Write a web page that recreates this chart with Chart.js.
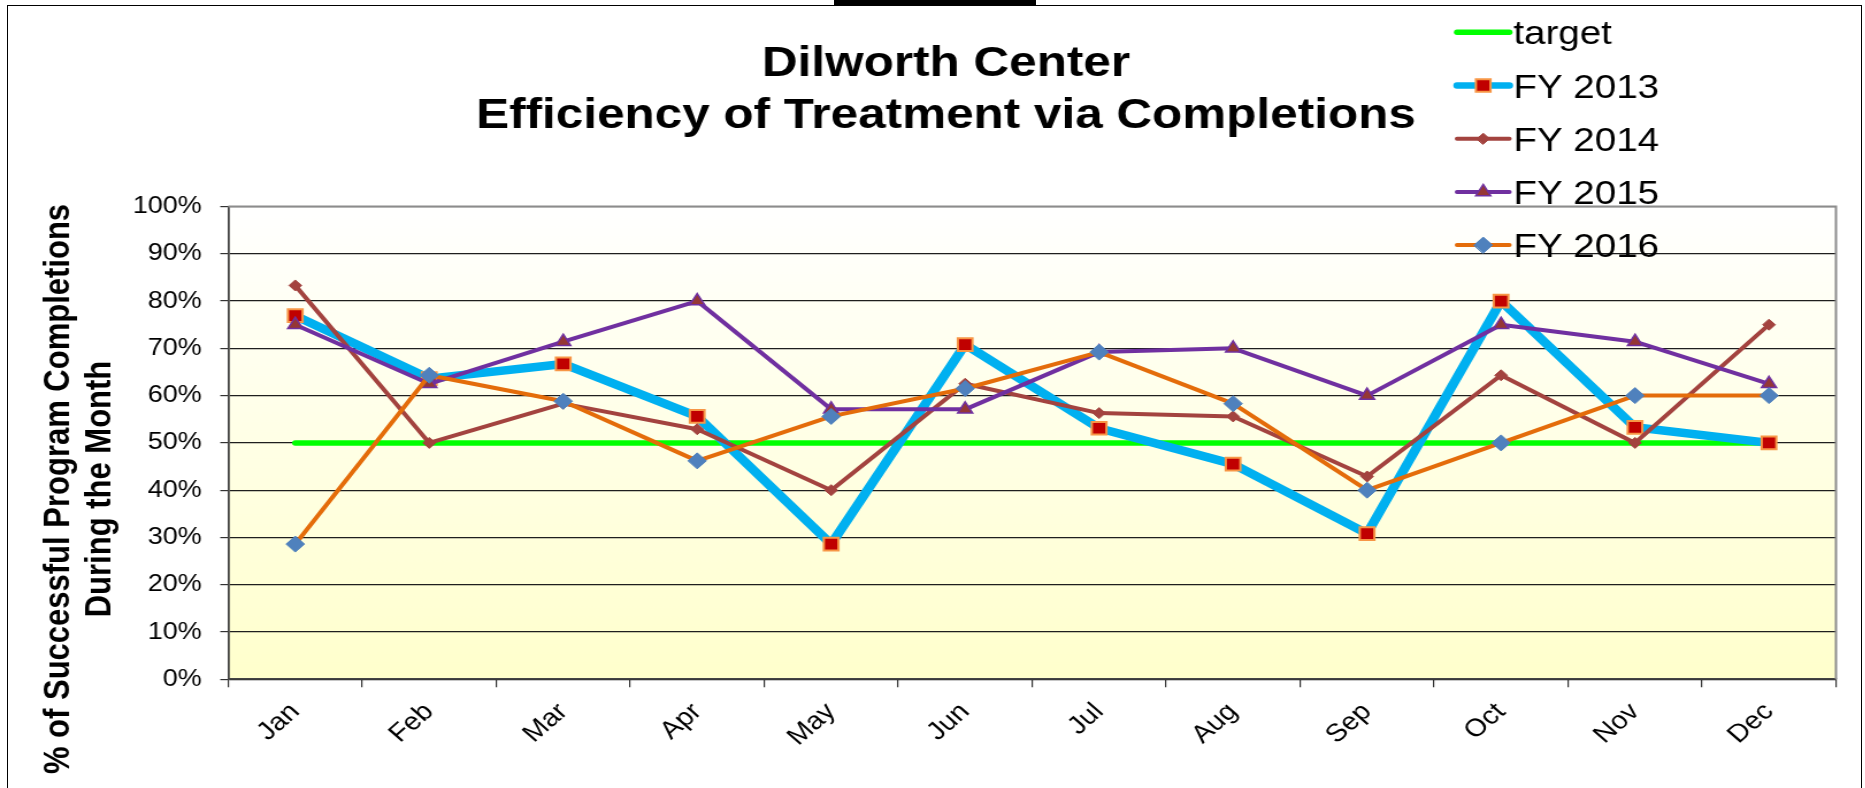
<!DOCTYPE html>
<html>
<head>
<meta charset="utf-8">
<script src="https://cdn.jsdelivr.net/npm/chart.js@4.4.1/dist/chart.umd.min.js"></script>
<style>
  html, body { margin: 0; padding: 0; background: #fff; overflow: hidden; }
  #frame { position: absolute; left: 7px; top: 5px; width: 1855px; height: 830px; border: 1.5px solid #000; box-sizing: border-box; }
  #topbar { position: absolute; left: 834px; top: 0; width: 202px; height: 6px; background: #000; }
  /* the reference is stretched sideways, so the chart is drawn narrow and widened */
  #wrap { position: absolute; left: 0; top: 0; width: 1622px; height: 788px; transform: scaleX(1.15); transform-origin: 0 0; }
</style>
</head>
<body>
<div id="frame"></div>
<div id="topbar"></div>
<div id="wrap"><canvas id="chart" width="1622" height="788"></canvas></div>
<script>
const months = ['Jan', 'Feb', 'Mar', 'Apr', 'May', 'Jun', 'Jul', 'Aug', 'Sep', 'Oct', 'Nov', 'Dec'];
const target = [50, 50, 50, 50, 50, 50, 50, 50, 50, 50, 50, 50];
const fy2013 = [76.9, 63.6, 66.7, 55.6, 28.6, 70.8, 53.1, 45.5, 30.8, 80.0, 53.3, 50.0];
const fy2014 = [83.3, 50.0, 58.3, 52.9, 40.0, 62.5, 56.3, 55.6, 42.9, 64.3, 50.0, 75.0];
const fy2015 = [75.0, 62.5, 71.4, 80.0, 57.1, 57.1, 69.2, 70.0, 60.0, 75.0, 71.4, 62.5];
const fy2016 = [28.6, 64.3, 58.8, 46.2, 55.6, 61.5, 69.2, 58.3, 40.0, 50.0, 60.0, 60.0];

const titleLines = ['Dilworth Center', 'Efficiency of Treatment via Completions'];
const yTitleLines = ['% of Successful Program Completions', 'During the Month'];

const FONT = '"Liberation Sans", Arial, sans-serif';

// plot background + grey frame on top/right
const plotBg = {
    id: 'plotBg',
    beforeDraw(chart) {
        const { ctx, chartArea: a } = chart;
        const g = ctx.createLinearGradient(0, a.top, 0, a.bottom);
        g.addColorStop(0, '#ffffff');
        g.addColorStop(1, '#ffffcc');
        ctx.save();
        ctx.fillStyle = g;
        ctx.fillRect(a.left, a.top, a.right - a.left, a.bottom - a.top);
        ctx.restore();
    },
    beforeDatasetsDraw(chart) {
        const { ctx, chartArea: a } = chart;
        ctx.save();
        ctx.strokeStyle = '#8c8c8c';
        ctx.lineWidth = 2;
        ctx.beginPath();
        ctx.moveTo(a.left, a.top);
        ctx.lineTo(a.right, a.top);
        ctx.lineTo(a.right, a.bottom);
        ctx.stroke();
        ctx.restore();
    }
};

// titles (chart title is off-centre in the original, so drawn by hand)
const titles = {
    id: 'titles',
    afterDraw(chart) {
        const ctx = chart.ctx;
        ctx.save();
        ctx.fillStyle = '#000';
        ctx.font = 'bold 43px ' + FONT;
        ctx.textAlign = 'center';
        ctx.textBaseline = 'alphabetic';
        ctx.fillText(titleLines[0], 822.6, 76);
        ctx.fillText(titleLines[1], 822.6, 128);

        ctx.font = 'bold 31px ' + FONT;
        [59.8, 96.3].forEach((x, i) => {
            ctx.save();
            ctx.translate(x, 489);
            ctx.rotate(-Math.PI / 2);
            ctx.fillText(yTitleLines[i], 0, 0);
            ctx.restore();
        });
        ctx.restore();
    }
};

function marker(ctx, ds, x, y) {
    if (!ds.pointRadius) return;
    ctx.fillStyle = ds.pointBackgroundColor;
    ctx.strokeStyle = ds.pointBorderColor;
    ctx.lineWidth = ds.pointBorderWidth;
    Chart.helpers.drawPoint(ctx, { pointStyle: ds.pointStyle, radius: ds.pointRadius, borderWidth: ds.pointBorderWidth, rotation: 0 }, x, y);
}

// legend at top right, overlapping the plot like the original
const sideLegend = {
    id: 'sideLegend',
    afterDraw(chart) {
        const ctx = chart.ctx;
        const x1 = 1267, x2 = 1312.5, tx = 1316;
        ctx.save();
        chart.data.datasets.forEach((ds, i) => {
            const y = 32.3 + i * 53.2;
            ctx.strokeStyle = ds.borderColor;
            ctx.lineWidth = Math.min(ds.borderWidth, 6.5);
            ctx.lineCap = 'round';
            ctx.beginPath();
            ctx.moveTo(x1, y);
            ctx.lineTo(x2, y);
            ctx.stroke();
            marker(ctx, ds, (x1 + x2) / 2, y);
            ctx.fillStyle = '#000';
            ctx.font = '33.5px ' + FONT;
            ctx.textAlign = 'left';
            ctx.textBaseline = 'alphabetic';
            ctx.fillText(ds.label, tx, y + 12);
        });
        ctx.restore();
    }
};

const lineBase = { tension: 0, borderJoinStyle: 'round', borderCapStyle: 'round', fill: false };

new Chart(document.getElementById('chart'), {
    type: 'line',
    data: {
        labels: months,
        datasets: [
            { ...lineBase, label: 'target', data: target, order: 5,
              borderColor: '#00ff00', borderWidth: 5.5, pointRadius: 0 },
            { ...lineBase, label: 'FY 2013', data: fy2013, order: 4,
              borderColor: '#00b0f0', borderWidth: 8.5,
              pointStyle: 'rect', pointRadius: 9, pointBackgroundColor: '#c00000', pointBorderColor: '#f79646', pointBorderWidth: 2 },
            { ...lineBase, label: 'FY 2014', data: fy2014, order: 3,
              borderColor: '#a3433f', borderWidth: 4,
              pointStyle: 'rectRot', pointRadius: 5.5, pointBackgroundColor: '#a3433f', pointBorderColor: '#a3433f', pointBorderWidth: 1 },
            { ...lineBase, label: 'FY 2015', data: fy2015, order: 2,
              borderColor: '#7030a0', borderWidth: 4,
              pointStyle: 'triangle', pointRadius: 7.5, pointBackgroundColor: '#953735', pointBorderColor: '#7030a0', pointBorderWidth: 1.5 },
            { ...lineBase, label: 'FY 2016', data: fy2016, order: 1,
              borderColor: '#e46c0a', borderWidth: 4,
              pointStyle: 'rectRot', pointRadius: 8, pointBackgroundColor: '#4f81bd', pointBorderColor: '#4f81bd', pointBorderWidth: 1 }
        ]
    },
    options: {
        responsive: false,
        animation: false,
        events: [],
        layout: { padding: { top: 206.5, right: 25.5, left: 0, bottom: 0 } },
        plugins: { legend: { display: false }, title: { display: false }, tooltip: { enabled: false } },
        scales: {
            x: {
                offset: true,
                grid: { display: true, drawOnChartArea: false, drawTicks: true, tickLength: 8, offset: true, color: '#333', lineWidth: 1.2 },
                border: { display: true, color: '#444', width: 1.8 },
                ticks: { autoSkip: false, minRotation: 45, maxRotation: 45, padding: 10, color: '#000', font: { family: FONT, size: 25 } },
                afterFit(s) { s.height = 108.7; }
            },
            y: {
                min: 0,
                max: 100,
                grid: {
                    color: c => (c.tick && c.tick.value === 100) ? '#8c8c8c' : '#1e1e1e',
                    tickColor: '#333',
                    lineWidth: 1.2,
                    tickLength: 7
                },
                border: { display: true, color: '#444', width: 1.8 },
                ticks: { stepSize: 10, padding: 16, color: '#000', font: { family: FONT, size: 23.5 }, callback: v => v + '%' },
                afterFit(s) { s.width = 198.5; }
            }
        }
    },
    plugins: [plotBg, titles, sideLegend]
});
</script>
</body>
</html>
